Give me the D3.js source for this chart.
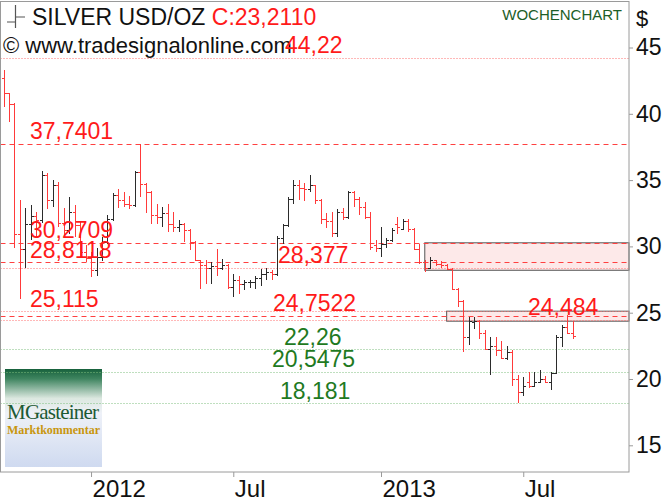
<!DOCTYPE html>
<html><head><meta charset="utf-8">
<script src="https://cdn.jsdelivr.net/npm/d3@7"></script>
<style>
html,body{margin:0;padding:0;background:#fff;}
svg{display:block;font-family:Arial,"Liberation Sans",sans-serif;}
</style>
</head><body>
<svg id="chart" width="670" height="503"></svg>
<script>
// ---------- data ----------
const firstWeek = new Date(2011, 8, 11);   // weekly bars, week-ending Sunday
const open  = [42.67,41.54,40.76,30.95,29.8,31.7,32.3,32.0,35.35,33.5,34.6,31.8,31.2,32.6,31.6,29.6,29.1,28.2,29.2,30.3,32.1,33.9,33.5,33.2,33.1,35.6,34.7,34.1,32.4,32.2,32.5,31.7,31.45,31.7,31.2,30.3,28.95,28.56,28.4,28.5,28.4,28.6,26.95,27.45,27.2,27.3,27.35,27.6,27.9,28.1,27.9,30.6,31.6,33.6,34.6,34.4,34.3,34.6,33.5,32.1,31.9,31.0,32.6,32.2,34.1,33.6,33.0,32.2,30.1,29.9,30.2,30.5,31.7,31.3,31.9,31.3,29.8,28.8,28.4,28.95,28.7,28.6,28.3,26.8,25.9,23.2,24.3,24.4,23.5,22.3,22.5,22.15,21.6,22.0,20.0,19.0,19.8,19.5,19.8,20.0,19.8,20.45,23.2,23.95,23.5];
const high  = [43.27,41.6,40.85,33.5,32.9,33.1,32.6,35.7,35.5,35.0,34.85,32.9,33.7,33.1,31.9,30.1,29.6,29.9,30.7,32.4,34.0,34.3,34.1,33.8,35.7,37.74,34.8,34.2,33.2,33.0,33.2,32.6,31.96,31.75,31.3,30.4,29.0,28.95,28.8,29.8,29.05,28.7,27.9,27.8,27.5,27.5,27.8,28.3,28.4,28.2,30.8,31.7,33.7,35.0,35.0,34.8,35.4,34.65,33.6,32.5,32.6,32.8,32.9,34.2,34.2,33.7,33.35,32.6,30.5,31.45,30.6,31.4,32.2,32.1,32.1,31.4,30.2,28.95,29.2,29.0,28.9,28.7,28.4,26.9,25.95,24.65,24.65,24.45,23.7,23.2,23.2,22.9,22.5,22.15,20.3,20.15,20.5,20.5,20.65,20.2,20.5,23.3,24.1,24.85,24.4];
const low   = [40.48,39.4,29.85,26.07,28.4,30.5,30.6,31.8,32.8,33.0,31.45,30.7,30.95,30.7,29.2,28.8,27.7,27.8,28.9,30.2,31.9,32.9,33.0,32.8,33.0,33.7,32.5,31.7,31.7,31.5,31.1,31.1,31.1,30.3,29.7,28.9,26.8,27.2,27.2,27.8,28.2,26.8,26.2,26.4,26.7,26.9,26.8,27.0,27.5,27.5,27.8,30.2,31.5,33.2,33.5,33.4,34.1,33.2,31.7,31.4,30.7,30.7,32.0,32.1,33.0,32.4,32.1,29.7,29.6,29.2,29.9,30.3,30.9,31.2,31.1,29.7,28.7,28.05,28.3,28.5,28.4,28.2,26.7,25.4,22.0,22.6,23.8,23.0,22.2,20.3,21.7,21.5,21.4,19.5,18.18,18.7,19.3,19.4,19.7,19.7,19.2,20.4,22.4,23.4,23.0];
const close = [41.54,40.76,30.95,29.8,31.7,32.3,32.0,35.35,33.5,34.6,31.8,31.2,32.6,31.6,29.6,29.1,28.2,29.2,30.3,32.1,33.9,33.5,33.2,33.1,35.6,34.7,34.1,32.4,32.2,32.5,31.7,31.45,31.7,31.2,30.3,28.95,28.56,28.4,28.5,28.4,28.6,26.95,27.45,27.2,27.3,27.35,27.6,27.9,28.1,27.9,30.6,31.6,33.6,34.6,34.4,34.3,34.6,33.5,32.1,31.9,31.0,32.6,32.2,34.1,33.6,33.0,32.2,29.95,29.9,30.2,30.5,31.2,31.5,31.9,31.3,29.8,28.8,28.4,28.95,28.7,28.6,28.3,26.8,25.9,23.2,24.4,24.4,23.5,22.3,22.5,22.15,21.6,22.0,20.0,19.0,19.5,19.5,19.8,20.0,19.8,20.45,23.2,23.95,23.5,23.211];

const yTicks = [15, 20, 25, 30, 35, 40, 45];
const xTickDates = [new Date(2012,0,1), new Date(2012,6,1), new Date(2013,0,6), new Date(2013,6,7)];
const xTickLabels = ["2012", "Jul", "2013", "Jul"];

const levelValues = [44.22, 37.7401, 30.2709, 28.8118, 28.377, 25.115, 24.7522, 24.484, 22.26, 20.5475, 18.181];
const levelKinds  = ["dot", "dash", "dash", "dash", "dot", "dot", "dash", "dot", "green", "green", "green"];
const levelLabelX = [285, 30, 30, 30, 278, 30, 273, 528, 284, 272, 280];

const zoneStartWeek = [77, 81];
const zoneLow  = [28.2, 24.36];
const zoneHigh = [30.2709, 25.115];

const symbol = "SILVER USD/OZ";
const lastLabel = "C:23,2110";

// ---------- setup ----------
const svg = d3.select("#chart");
const W = 670, H = 503;
const plot = {left: 0.5, right: 629, top: 1.5, bottom: 472};
const weeks = open.map((_, i) => +d3.timeWeek.offset(firstWeek, i));

const x = d3.scalePoint().domain(weeks).range([3.5, 572.5]);
const y = d3.scaleLinear().domain([15, 45]).range([445.3, 47.5]);
const fmt = v => String(v).replace(".", ",");

svg.append("rect").attr("width", W).attr("height", H).attr("fill", "#fff");

// logo
const defs = svg.append("defs");
const g1 = defs.append("linearGradient").attr("id", "logoGrad").attr("x1", 0).attr("y1", 0).attr("x2", 0).attr("y2", 1);
g1.append("stop").attr("offset", "0").attr("stop-color", "#17613c");
g1.append("stop").attr("offset", "0.1").attr("stop-color", "#3f8560");
g1.append("stop").attr("offset", "0.3").attr("stop-color", "#dce8e0");
g1.append("stop").attr("offset", "0.45").attr("stop-color", "#eef1f8");
g1.append("stop").attr("offset", "1").attr("stop-color", "#cfdaf0");
svg.append("rect").attr("x", 5).attr("y", 369).attr("width", 97).attr("height", 98).attr("fill", "url(#logoGrad)");
svg.append("text").attr("x", 7).attr("y", 419).attr("font-family", "'Liberation Serif','DejaVu Serif',serif")
  .attr("font-size", 21).attr("fill", "#1d5a34").attr("textLength", 92).text("MGasteiner");
svg.append("text").attr("x", 7).attr("y", 434).attr("font-family", "'Liberation Serif','DejaVu Serif',serif")
  .attr("font-size", 12).attr("font-weight", "bold").attr("fill", "#c8960e").attr("textLength", 93).text("Marktkommentar");

// zones
zoneStartWeek.forEach((s, i) => {
  const x0 = x(weeks[s]);
  svg.append("rect").attr("x", x0).attr("y", y(zoneHigh[i]))
    .attr("width", plot.right - x0).attr("height", y(zoneLow[i]) - y(zoneHigh[i]))
    .attr("fill", "#fde9e9").attr("stroke", "#555").attr("stroke-width", 1);
});

// horizontal levels
const levelStyle = {
  dot:   {stroke: "#ff7070", dash: "1,2"},
  dash:  {stroke: "#ff4040", dash: "5,4"},
  green: {stroke: "#7fbf7f", dash: "1,2"}
};
levelValues.forEach((v, i) => {
  const st = levelStyle[levelKinds[i]];
  const yy = Math.round(y(v)) + 0.5;
  svg.append("line").attr("x1", plot.left).attr("x2", plot.right).attr("y1", yy).attr("y2", yy)
    .attr("stroke", st.stroke).attr("stroke-width", 1).attr("stroke-dasharray", st.dash);
});

// bars
const barG = svg.append("g").attr("shape-rendering", "crispEdges");
const tw = 2.7;
weeks.forEach((d, i) => {
  const cx = Math.round(x(d)) + 0.5;
  const col = close[i] >= open[i] ? "#2b2b2b" : "#ff3a3a";
  const g = barG.append("g").attr("stroke", col).attr("stroke-width", 1);
  g.append("line").attr("x1", cx).attr("x2", cx).attr("y1", y(high[i])).attr("y2", y(low[i]));
  g.append("line").attr("x1", cx - tw).attr("x2", cx).attr("y1", Math.round(y(open[i])) + 0.5).attr("y2", Math.round(y(open[i])) + 0.5);
  g.append("line").attr("x1", cx).attr("x2", cx + tw).attr("y1", Math.round(y(close[i])) + 0.5).attr("y2", Math.round(y(close[i])) + 0.5);
});

// level labels
levelValues.forEach((v, i) => {
  if (i === 0) return;
  svg.append("text").attr("x", levelLabelX[i]).attr("y", y(v) - 4.5)
    .attr("font-size", 23).attr("fill", levelKinds[i] === "green" ? "#1f7a1f" : "#ff1a1a")
    .text(fmt(v));
});

// frame
svg.append("rect").attr("x", plot.left).attr("y", plot.top)
  .attr("width", plot.right - plot.left).attr("height", plot.bottom - plot.top)
  .attr("fill", "none").attr("stroke", "#9a9a9a").attr("stroke-width", 1);

// y axis (right)
const yAxis = svg.append("g").attr("transform", `translate(${plot.right},0)`)
  .call(d3.axisRight(y).tickValues(yTicks).tickSize(4).tickPadding(3));
yAxis.select(".domain").remove();
yAxis.selectAll("line").attr("stroke", "#9a9a9a");
yAxis.selectAll("text").attr("font-size", 23).attr("font-family", "Arial, 'Liberation Sans', sans-serif").attr("fill", "#111");
svg.append("text").attr("x", 636).attr("y", 26).attr("font-size", 22).attr("fill", "#111").text("$");

// x axis
const xAxis = svg.append("g").attr("transform", `translate(0,${plot.bottom})`)
  .call(d3.axisBottom(x).tickValues(xTickDates.map(d => +d)).tickSize(5)
    .tickFormat((d, i) => xTickLabels[i]));
xAxis.select(".domain").remove();
xAxis.selectAll("line").attr("stroke", "#9a9a9a");
xAxis.selectAll("text").attr("font-size", 24).attr("font-family", "Arial, 'Liberation Sans', sans-serif")
  .attr("fill", "#111").attr("text-anchor", "start").attr("dx", 1).attr("y", 8).attr("dy", "0.71em");

// header
const icon = svg.append("g").attr("stroke", "#555").attr("stroke-width", 1.2).attr("fill", "none");
icon.append("path").attr("d", "M15.5,5V28M7,22H15.5M15.5,17H25");
const h1 = svg.append("text").attr("x", 32).attr("y", 25).attr("font-size", 23);
h1.append("tspan").attr("fill", "#111").text(symbol + " ");
h1.append("tspan").attr("fill", "#ff1a1a").text(lastLabel);
svg.append("text").attr("x", 3).attr("y", 53).attr("font-size", 22).attr("fill", "#111").text("\u00a9 www.tradesignalonline.com");
svg.append("text").attr("x", 622).attr("y", 20).attr("font-size", 15).attr("fill", "#1c5e28").attr("text-anchor", "end").text("WOCHENCHART");
// 44,22 label drawn over the URL line, as in the reference
svg.append("text").attr("x", levelLabelX[0]).attr("y", y(levelValues[0]) - 4.5).attr("font-size", 23).attr("fill", "#ff1a1a").text(fmt(levelValues[0]));
</script>
</body></html>
